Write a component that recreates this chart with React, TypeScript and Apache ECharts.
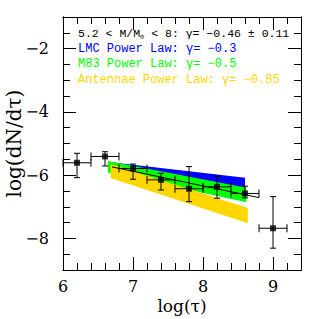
import React, { useEffect, useRef } from "react";
import * as echarts from "echarts";

// Binned data points
const tau = [6.2, 6.6, 7.0, 7.4, 7.8, 8.2, 8.6, 9.0];
const tauLow = [6.0, 6.4, 6.8, 7.2, 7.6, 8.0, 8.4, 8.8];
const tauHigh = [6.4, 6.8, 7.2, 7.6, 8.0, 8.4, 8.8, 9.2];
const logRate = [-5.61, -5.41, -5.79, -6.15, -6.43, -6.37, -6.58, -7.68];
const rateHigh = [-5.31, -5.26, -5.65, -5.94, -5.73, -6.03, -6.35, -6.68];
const rateLow = [-6.08, -5.71, -6.13, -6.47, -6.84, -6.73, -6.72, -8.31];

// Fitted power law
const fitTau = [6.7, 8.8];
const fitRate = [-5.74, -6.71];

// Comparison bands
const lmcTau = [6.72, 8.6];
const lmcTop = [-5.6, -6.08];
const lmcBottom = [-6.0, -6.42];
const m83Tau = [6.64, 8.62];
const m83Top = [-5.55, -6.4];
const m83Bottom = [-5.92, -6.86];
const antTau = [6.68, 8.64];
const antTop = [-5.65, -7.04];
const antBottom = [-6.09, -7.52];

const xMajor = [6, 7, 8, 9];
const yMajor = [-8, -6, -4, -2];

const legendLines = [
  { text: "5.2 < M/M{sub|⊙} < 8: γ= −0.46 ± 0.11", color: "#000000", size: 11.5 },
  { text: "LMC Power Law: γ= −0.3", color: "#0000ff", size: 12 },
  { text: "M83 Power Law: γ= −0.5", color: "#00ff00", size: 12 },
  { text: "Antennae Power Law: γ= −0.85", color: "#ffd700", size: 12 },
];

const SERIF = '"DejaVu Serif", serif';
const MONO = '"Liberation Mono", monospace';

function bandSeries(t: number[], top: number[], bot: number[], color: string) {
  return {
    type: "custom",
    xAxisIndex: 0,
    yAxisIndex: 0,
    silent: true,
    clip: false,
    data: [[t[0], top[0], bot[0], t[1], top[1], bot[1]]],
    renderItem: (_p: any, api: any) => {
      const a = api.coord([api.value(0), api.value(1)]);
      const b = api.coord([api.value(3), api.value(4)]);
      const c = api.coord([api.value(3), api.value(5)]);
      const d = api.coord([api.value(0), api.value(2)]);
      return {
        type: "polygon",
        shape: { points: [a, b, c, d] },
        style: { fill: color, stroke: "none" },
      };
    },
  };
}

export default function App() {
  const ref = useRef<HTMLDivElement>(null);
  useEffect(() => {
    if (!ref.current) return;
    const chart = echarts.init(ref.current, undefined, { renderer: "svg" });
    const minus = (v: number) => String(v).replace("-", "−");
    const axisLine = { show: true, lineStyle: { color: "#000", width: 1 } };
    const mkX = (pos: string, major: boolean, withName: boolean) => ({
      type: "value",
      min: 6,
      max: 9.4,
      position: pos,
      ...(major ? {} : { interval: 0.2 }),
      axisLine,
      splitLine: { show: false },
      axisTick: {
        show: true,
        inside: true,
        length: major ? 13 : 7,
        lineStyle: { color: "#000", width: 1 },
        ...(major ? { customValues: xMajor } : {}),
      },
      axisLabel: major && withName
        ? { show: true, customValues: xMajor, fontFamily: SERIF, fontSize: 16, color: "#000", margin: 8, formatter: minus }
        : { show: false },
      name: withName ? "log(τ)" : "",
      nameLocation: "middle",
      nameGap: 27,
      nameMoveOverlap: false,
      nameTextStyle: { fontFamily: SERIF, fontSize: 17, color: "#000" },
    });
    const mkY = (pos: string, major: boolean, withName: boolean) => ({
      type: "value",
      min: -9,
      max: -1,
      position: pos,
      ...(major ? {} : { interval: 0.5 }),
      axisLine,
      splitLine: { show: false },
      axisTick: {
        show: true,
        inside: true,
        length: major ? 13 : 7,
        lineStyle: { color: "#000", width: 1 },
        ...(major ? { customValues: yMajor } : {}),
      },
      axisLabel: major && withName
        ? { show: true, customValues: yMajor, fontFamily: SERIF, fontSize: 16, color: "#000", margin: 14, formatter: minus }
        : { show: false },
      name: withName ? "log(dN/dτ)" : "",
      nameLocation: "middle",
      nameRotate: 90,
      nameGap: 39,
      nameMoveOverlap: false,
      nameTextStyle: { fontFamily: SERIF, fontSize: 20, color: "#000" },
    });

    const errData = tau.map((t, i) => [t, logRate[i], tauLow[i], tauHigh[i], rateLow[i], rateHigh[i]]);

    chart.setOption({
      animation: false,
      backgroundColor: "#fff",
      grid: { left: 63, right: 18, top: 17, bottom: 49, containLabel: false, outerBoundsMode: "none" },
      xAxis: [mkX("bottom", true, true), mkX("bottom", false, false), mkX("top", true, false), mkX("top", false, false)],
      yAxis: [mkY("left", true, true), mkY("left", false, false), mkY("right", true, false), mkY("right", false, false)],
      series: [
        bandSeries(lmcTau, lmcTop, lmcBottom, "#0000ff"),
        bandSeries(m83Tau, m83Top, m83Bottom, "#00ff00"),
        bandSeries(antTau, antTop, antBottom, "#ffd700"),
        {
          type: "line",
          xAxisIndex: 0,
          yAxisIndex: 0,
          data: fitTau.map((t, i) => [t, fitRate[i]]),
          symbol: "none",
          lineStyle: { color: "#000", width: 1 },
          silent: true,
        },
        {
          type: "custom",
          xAxisIndex: 0,
          yAxisIndex: 0,
          silent: true,
          clip: false,
          data: errData,
          renderItem: (_p: any, api: any) => {
            const x = api.value(0), y = api.value(1);
            const pL = api.coord([api.value(2), y]);
            const pR = api.coord([api.value(3), y]);
            const pB = api.coord([x, api.value(4)]);
            const pT = api.coord([x, api.value(5)]);
            const cap = 4;
            const st = { stroke: "#000", lineWidth: 1 };
            const ln = (x1: number, y1: number, x2: number, y2: number) => ({
              type: "line",
              shape: { x1, y1, x2, y2 },
              style: st,
            });
            return {
              type: "group",
              children: [
                ln(pL[0], pL[1], pR[0], pR[1]),
                ln(pL[0], pL[1] - cap, pL[0], pL[1] + cap),
                ln(pR[0], pR[1] - cap, pR[0], pR[1] + cap),
                ln(pT[0], pT[1], pB[0], pB[1]),
                ln(pT[0] - 3, pT[1], pT[0] + 3, pT[1]),
                ln(pB[0] - 3, pB[1], pB[0] + 3, pB[1]),
              ],
            };
          },
        },
        {
          type: "scatter",
          xAxisIndex: 0,
          yAxisIndex: 0,
          data: tau.map((t, i) => [t, logRate[i]]),
          symbol: "rect",
          symbolSize: 6,
          itemStyle: { color: "#000" },
          silent: true,
        },
      ],
      graphic: legendLines.map((l, i) => ({
        type: "text",
        x: 78,
        y: 33 + i * 15.7,
        silent: true,
        style: {
          text: l.text,
          fill: l.color,
          font: `${l.size}px ${MONO}`,
          verticalAlign: "middle",
          rich: {
            sub: { fontSize: 7, fontFamily: MONO, fill: l.color, padding: [7, 0, 0, 0] },
          },
        },
      })),
    });
    return () => chart.dispose();
  }, []);
  return <div ref={ref} style={{ position: "fixed", left: 0, top: 0, width: 319, height: 319 }} />;
}
